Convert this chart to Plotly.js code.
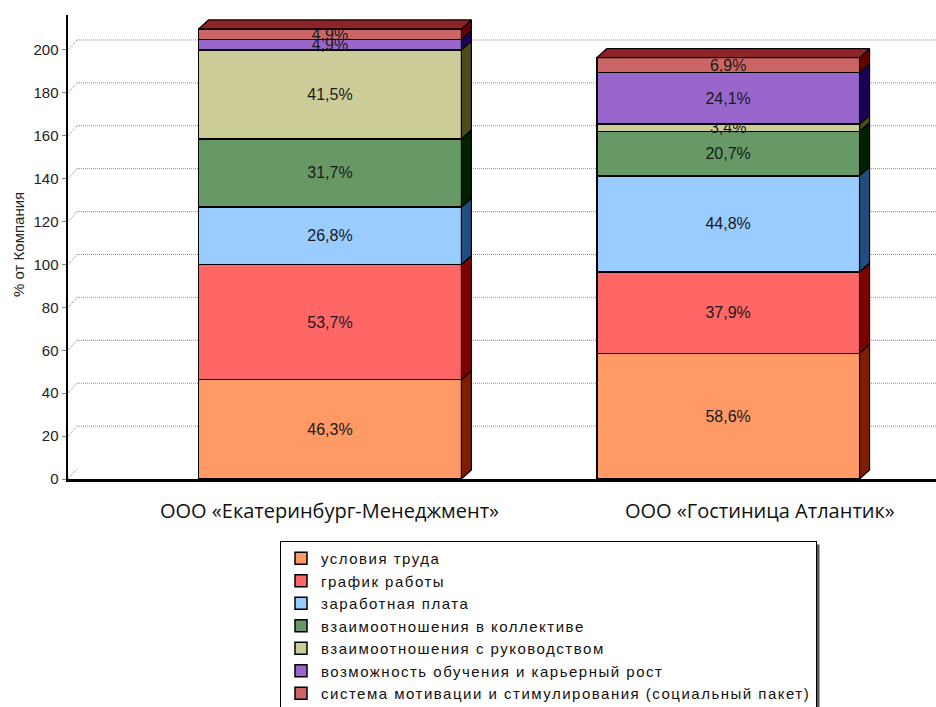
<!DOCTYPE html>
<html>
<head>
<meta charset="utf-8">
<script src="https://cdn.plot.ly/plotly-3.0.1.min.js"></script>
<style>
body{margin:0;background:#fff}
.legendtext{letter-spacing:1.5px}
</style>
</head>
<body>
<div id="chart" style="width:936px;height:707px"></div>
<script>
const categories = ["ООО «Екатеринбург-Менеджмент»", "ООО «Гостиница Атлантик»"];
const seriesNames = [
  "условия труда",
  "график работы",
  "заработная плата",
  "взаимоотношения в коллективе",
  "взаимоотношения с руководством",
  "возможность обучения и карьерный рост",
  "система мотивации и стимулирования (социальный пакет)"
];
const uslovia = [46.3, 58.6];
const grafik = [53.7, 37.9];
const zarplata = [26.8, 44.8];
const kollektiv = [31.7, 20.7];
const rukovodstvo = [41.5, 3.4];
const obuchenie = [4.9, 24.1];
const motivacia = [4.9, 6.9];
const seriesValues = [uslovia, grafik, zarplata, kollektiv, rukovodstvo, obuchenie, motivacia];
const yTicks = [0, 20, 40, 60, 80, 100, 120, 140, 160, 180, 200];
const yTitle = "% от Компания";

const frontColors = ["#FF9966", "#FF6666", "#99CCFF", "#669966", "#CCCC99", "#9966CC", "#CC6666"];
const sideColors = ["#7F1D00", "#800000", "#1F4F80", "#002000", "#4D4D1A", "#1C0055", "#660000"];
const topColor = "#8E2328";

const W = 936, H = 707;
const mL = 68, mR = 0, mT = 15, mB = 228;
const plotW = W - mL - mR, plotH = H - mT - mB;
const xRange = [-0.658, 1.522];
const yRange = [0, 216.3];
const pxPerX = plotW / (xRange[1] - xRange[0]);
const pxPerY = plotH / (yRange[1] - yRange[0]);
const barW = 0.66;
const dx = 10 / pxPerX, dy = 9 / pxPerY;

function fmt(v) { return v.toFixed(1).replace('.', ',') + '%'; }

const traces = [];
seriesValues.forEach((vals, s) => {
  traces.push({
    type: 'bar',
    name: seriesNames[s],
    x: [0, 1],
    y: vals,
    width: barW,
    marker: { color: frontColors[s], line: { color: '#000', width: 1.5 } },
    text: vals.map(fmt),
    textposition: 'inside',
    insidetextanchor: 'middle',
    textangle: 0,
    constraintext: 'none',
    textfont: { family: 'Liberation Sans, Arial, sans-serif', size: 16, color: '#1a1a1a' },
    cliponaxis: false,
    hoverinfo: 'name+y'
  });
});
const base = [0, 0];
seriesValues.forEach((vals, s) => {
  const xs = [], ys = [];
  vals.forEach((v, i) => {
    const xr = i + barW / 2;
    const y0 = base[i], y1 = base[i] + v;
    xs.push(xr, xr + dx, xr + dx, xr, xr, null);
    ys.push(y0, y0 + dy, y1 + dy, y1, y0, null);
    base[i] = y1;
  });
  traces.push({
    type: 'scatter', mode: 'lines', x: xs, y: ys, fill: 'toself',
    fillcolor: sideColors[s], line: { color: '#000', width: 1.2 },
    showlegend: false, hoverinfo: 'skip', cliponaxis: false
  });
});
{
  const xs = [], ys = [];
  base.forEach((t, i) => {
    const xl = i - barW / 2, xr = i + barW / 2;
    xs.push(xl, xl + dx, xr + dx, xr, xl, null);
    ys.push(t, t + dy, t + dy, t, t, null);
  });
  traces.push({
    type: 'scatter', mode: 'lines', x: xs, y: ys, fill: 'toself',
    fillcolor: topColor, line: { color: '#000', width: 1.2 },
    showlegend: false, hoverinfo: 'skip', cliponaxis: false
  });
}

const shapes = [];
yTicks.forEach(v => {
  if (v > 0) {
    shapes.push({
      type: 'line', layer: 'below', xref: 'paper', x0: 9 / plotW, x1: 1,
      yref: 'y', ysizemode: 'pixel', yanchor: v, y0: 10, y1: 10,
      line: { color: '#8c8c8c', width: 1, dash: '1px,1px' }
    });
  }
  shapes.push({
    type: 'line', layer: 'below', xref: 'paper', xsizemode: 'pixel', xanchor: 0, x0: 0, x1: 9,
    yref: 'y', ysizemode: 'pixel', yanchor: v, y0: 0, y1: 10,
    line: { color: '#8c8c8c', width: 1, dash: '1px,1px' }
  });
});

const labelShift = [0, 32];
const annotations = categories.map((c, i) => ({
  text: c, xref: 'x', yref: 'paper', x: i, xshift: labelShift[i],
  y: -(511 - (H - mB)) / plotH, yanchor: 'middle', showarrow: false,
  font: { family: 'Open Sans, sans-serif', size: 20, color: '#111' }
}));
annotations.push({
  text: yTitle, xref: 'paper', yref: 'paper', x: (18 - mL) / plotW, xanchor: 'center',
  y: (H - mB - 245) / plotH, yanchor: 'middle', textangle: -90, showarrow: false,
  font: { family: 'Liberation Sans, Arial, sans-serif', size: 15, color: '#222' }
});

const layout = {
  width: W, height: H,
  margin: { l: mL, r: mR, t: mT, b: mB, autoexpand: false },
  paper_bgcolor: '#fff', plot_bgcolor: '#fff',
  barmode: 'stack',
  showlegend: true,
  xaxis: {
    type: 'linear', range: xRange, showgrid: false, zeroline: false,
    showticklabels: false, showline: true, linecolor: '#000', linewidth: 2.5,
    ticks: '', fixedrange: true
  },
  yaxis: {
    range: yRange, tickvals: yTicks, showgrid: false, zeroline: false,
    showline: true, linecolor: '#000', linewidth: 2.5,
    ticks: 'outside', ticklen: 4, tickcolor: '#888',
    tickfont: { family: 'Liberation Sans, Arial, sans-serif', size: 15, color: '#222' }
  },
  legend: {
    orientation: 'v', traceorder: 'normal',
    xref: 'container', yref: 'container',
    x: 280 / W, xanchor: 'left',
    y: (H - 541) / H, yanchor: 'top',
    bordercolor: '#000', borderwidth: 1, bgcolor: '#fff',
    font: { family: 'Liberation Sans, Arial, sans-serif', size: 15, color: '#111' },
    tracegroupgap: 0, itemwidth: 30
  },
  shapes: shapes,
  annotations: annotations
};

Plotly.newPlot('chart', traces, layout, { displayModeBar: false, staticPlot: true }).then(gd => {
  const bg = gd.querySelector('.legend .bg');
  if (!bg) return;
  const r = bg.getBoundingClientRect();
  const c = gd.getBoundingClientRect();
  const x0 = r.left - c.left, x1 = r.right - c.left, y0 = r.top - c.top, y1 = r.bottom - c.top;
  const off = 3;
  const shadow = {
    type: 'rect', layer: 'below', xref: 'paper', yref: 'paper',
    x0: (x0 + off - mL) / plotW, x1: (x1 + off - mL) / plotW,
    y0: (H - mB - (y0 + off)) / plotH, y1: (H - mB - (y1 + off)) / plotH,
    fillcolor: '#555', line: { width: 0 }
  };
  Plotly.relayout(gd, { shapes: shapes.concat([shadow]) });
});
</script>
</body>
</html>
